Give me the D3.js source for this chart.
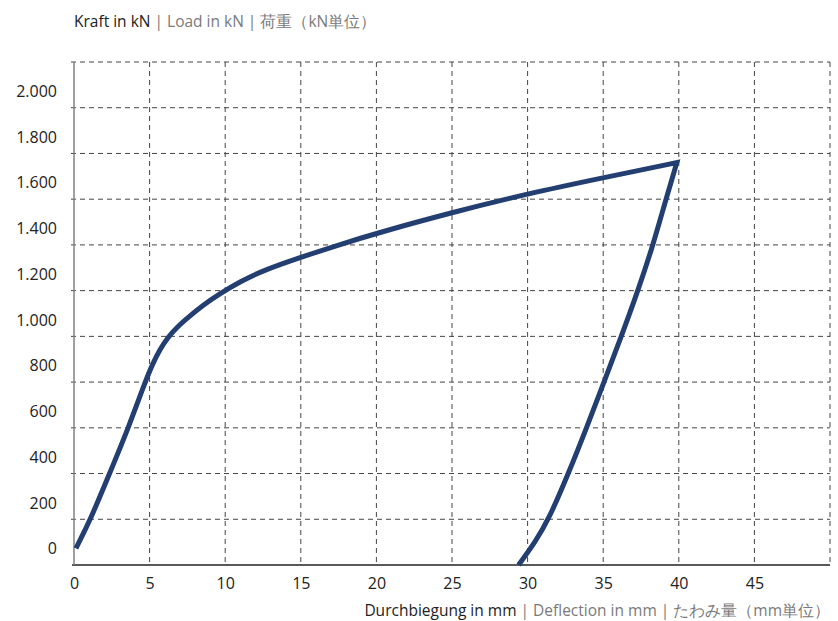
<!DOCTYPE html>
<html><head><meta charset="utf-8">
<script src="https://cdn.jsdelivr.net/npm/d3@7"></script>
<style>body{margin:0;background:#fff}svg{display:block}</style>
</head><body><svg id="c" width="838" height="621"></svg>
<script>
const xTicks = [0,5,10,15,20,25,30,35,40,45];
const yTicks = [0,200,400,600,800,1000,1200,1400,1600,1800,2000];
const yTickLabels = ["0","200","400","600","800","1.000","1.200","1.400","1.600","1.800","2.000"];
// loading branch: deflection (mm), load (kN)
const loadX = [0.13, 1.1, 2.35, 3.6, 4.7, 5.2, 5.7, 6.2, 6.8, 7.6, 8.5, 9.6, 11, 12.5, 15, 17.5, 20, 25, 30, 35, 39.87];
const loadY = [73, 200, 400, 600, 800, 880, 945, 995, 1040, 1086, 1135, 1185, 1240, 1288, 1346, 1400, 1451, 1542, 1624, 1694, 1760];
// unloading branch
const unX = [39.87, 39.15, 38.3, 37.3, 36.2, 35.05, 33.9, 32.7, 31.4, 30.5, 29.4];
const unY = [1760, 1600, 1400, 1200, 1000, 800, 600, 400, 200, 100, 0];

const svg = d3.select("#c");
const x = d3.scaleLinear().domain([0,50]).range([74,830]);
const y = d3.scaleLinear().domain([0,2200]).range([565,62]);
const dark = "#222", grey = "#7a7a7a";
const font = "'Open Sans', sans-serif";

// horizontal grid
const hg = [...yTicks.slice(1), 2200];
svg.append("g").selectAll("line").data(hg).join("line")
  .attr("x1", x(0)-3).attr("x2", x(50)).attr("y1", d=>y(d)).attr("y2", d=>y(d))
  .attr("stroke","#444").attr("stroke-width",1).attr("stroke-dasharray","5,4");
// vertical grid
svg.append("g").selectAll("line").data([...xTicks.slice(1),50]).join("line")
  .attr("x1", d=>x(d)).attr("x2", d=>x(d)).attr("y1", y(2200)).attr("y2", y(0))
  .attr("stroke","#444").attr("stroke-width",1).attr("stroke-dasharray","5,4");

// axes
const xAxis = d3.axisBottom(x).tickValues(xTicks).tickSize(0).tickPadding(13);
const gx = svg.append("g").attr("transform",`translate(0,${y(0)})`).call(xAxis);
gx.select(".domain").attr("d", `M${x(0)-2},0H${x(50)}`).attr("stroke",dark).attr("stroke-width",1.5);
gx.selectAll("text").attr("font-family",font).attr("font-size",16).attr("fill",dark);

const yAxis = d3.axisLeft(y).tickValues(yTicks).tickFormat((d,i)=>yTickLabels[i]).tickSize(0).tickPadding(17);
const gy = svg.append("g").attr("transform",`translate(${x(0)},0)`).call(yAxis);
gy.select(".domain").attr("d", `M0,${y(2200)}V${y(0)}`).attr("stroke","#808080").attr("stroke-width",1.5);
gy.selectAll("text").attr("font-family",font).attr("font-size",16).attr("fill",dark).attr("dy","-0.7em");

// curve
const line = d3.line().x(d=>x(d[0])).y(d=>y(d[1])).curve(d3.curveBasis);
const p1 = line(loadX.map((v,i)=>[v,loadY[i]]));
const p2 = line(unX.map((v,i)=>[v,unY[i]])).replace(/^M[^A-Za-z]*/,"");
svg.append("path").attr("d", p1+p2).attr("fill","none").attr("stroke","#233f71")
  .attr("stroke-width",5).attr("stroke-linejoin","miter");

// titles
const yt = svg.append("text").attr("x",74).attr("y",27).attr("font-family",font).attr("font-size",15.5);
yt.append("tspan").attr("fill",dark).text("Kraft in kN");
yt.append("tspan").attr("fill",grey).text(" | Load in kN | 荷重（kN単位）");

const xt = svg.append("text").attr("x",830).attr("y",616).attr("text-anchor","end").attr("font-family",font).attr("font-size",15.5);
xt.append("tspan").attr("fill",dark).text("Durchbiegung in mm");
xt.append("tspan").attr("fill",grey).text(" | Deflection in mm | たわみ量（mm単位）");
</script></body></html>
